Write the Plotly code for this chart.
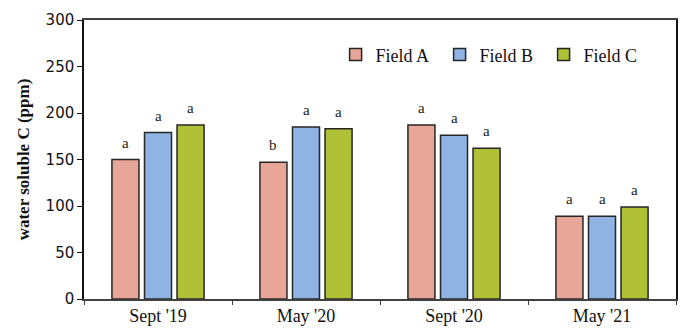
import plotly.graph_objects as go

# Sampling dates and fields
dates = ["Sept '19", "May '20", "Sept '20", "May '21"]
fields = ["Field A", "Field B", "Field C"]

# Water soluble C (ppm) per field at each date
field_a = [150, 147, 187, 89]
field_b = [179, 185, 176, 89]
field_c = [187, 183, 162, 99]

# Significance letters above each bar
letters_a = ["a", "b", "a", "a"]
letters_b = ["a", "a", "a", "a"]
letters_c = ["a", "a", "a", "a"]

colors = ["#E8A698", "#8FB4E3", "#B0C137"]
series = [field_a, field_b, field_c]
letters = [letters_a, letters_b, letters_c]

serif = "Liberation Serif"

fig = go.Figure()
for name, vals, col in zip(fields, series, colors):
    fig.add_trace(go.Bar(
        x=dates, y=vals, name=name,
        marker=dict(color=col, line=dict(color="#262626", width=1.5)),
    ))

# letters sit a fixed distance above each bar; bars in a group are ~32.6 px apart
slot_px = 32.6
for j, (vals, labs) in enumerate(zip(series, letters)):
    for d, v, lab in zip(dates, vals, labs):
        fig.add_annotation(
            x=d, y=v, text=lab, showarrow=False,
            xshift=(j - 1) * slot_px, yshift=17,
            xanchor="center", yanchor="middle",
            font=dict(family=serif, size=15, color="#222222"),
        )

fig.update_layout(
    width=680, height=329,
    margin=dict(l=84, r=2, t=20, b=30),
    paper_bgcolor="white", plot_bgcolor="white",
    barmode="group", bargap=0.34, bargroupgap=0.17,
    showlegend=True,
    legend=dict(
        orientation="h", x=0.425, y=0.875, xanchor="left", yanchor="middle",
        font=dict(family=serif, size=18, color="#111111"),
        itemwidth=30, tracegroupgap=0, bgcolor="rgba(0,0,0,0)",
        entrywidth=59, entrywidthmode="pixels",
    ),
    xaxis=dict(
        showline=True, linecolor="#404040", linewidth=1.5, mirror=True,
        ticks="outside", ticklen=4, tickcolor="#404040", tickson="boundaries",
        tickfont=dict(family=serif, size=18, color="#111111"),
        showgrid=False,
    ),
    yaxis=dict(
        range=[0, 300], dtick=50,
        showline=True, linecolor="#111111", linewidth=1.5, mirror=True,
        ticks="outside", ticklen=5, tickcolor="#111111",
        tickfont=dict(family="DejaVu Sans", size=15, color="#111111"),
        showgrid=False, zeroline=False,
        title=dict(text="<b>water soluble C (ppm)</b>",
                   font=dict(family=serif, size=17, color="#111111"),
                   standoff=12),
    ),
)

fig.write_html("out.html")
